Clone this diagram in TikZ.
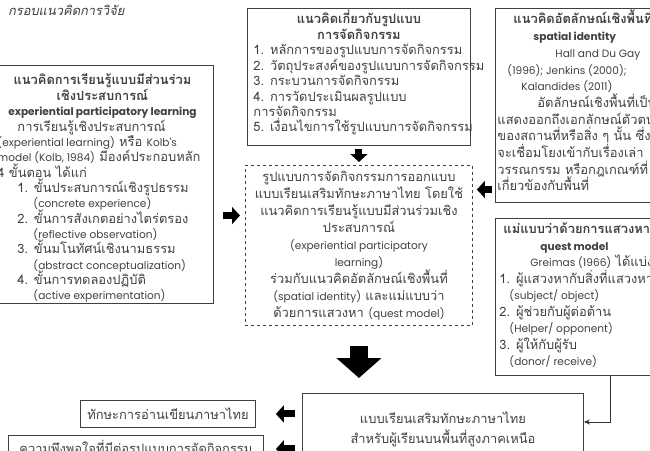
\documentclass[tikz,border=0pt]{standalone}
\usepackage{fontspec}
\setmainfont[Script=Thai]{Loma}
\newfontfamily\latfont[Scale=0.82]{Poppins}
\usepackage{tikz}
\usetikzlibrary{arrows.meta,positioning}

\newlength\rowwidth
\newcommand\lat[1]{{\latfont#1}}
\newcommand\row[1]{\makebox[\rowwidth][l]{#1}}
\newcommand\midtext[1]{\makebox[\rowwidth][c]{#1}}
\newcommand\hstrut[1]{\rule{0pt}{#1}}
\newcommand\dstrut[1]{\rule[-#1]{0pt}{#1}}

\begin{document}
\setlength{\lineskiplimit}{-100pt}
\begin{tikzpicture}[x=1pt,y=-1pt,
    every node/.style={text=black!75, font=\fontsize{12.9}{15.36}\selectfont},
    box/.style={draw=black!75, line width=0.9pt, anchor=north west, align=left, inner xsep=6pt, inner ysep=1pt},
    rows/.style={execute at begin node={\setlength{\rowwidth}{#1}\setlength{\lineskiplimit}{-100pt}}},
    thickarrow/.style={black, line width=7pt, -{Triangle[width=17pt,length=8pt]}},
    bigarrow/.style={black, line width=18pt, -{Triangle[width=44pt,length=20pt]}},
    link/.style={black!80, line width=0.9pt, -{Stealth[length=6pt,width=5pt]}}]
    \useasboundingbox (0,0) rectangle (650,450);
    \clip (0,0) rectangle (650,450);

    \coordinate (LearnNW) at (-9, 65);
    \coordinate (ConceptNW) at (247, 8);
    \coordinate (DesignNW) at (245, 165);
    \coordinate (SpaceNW) at (495, 8);
    \coordinate (QuestNW) at (495, 218);
    \coordinate (ResultNW) at (302, 393);

    \node (title) [anchor=east, font=\fontsize{12.9}{14}\selectfont\itshape] at (128, 10) {กรอบแนวคิดการวิจัย};

    \node (learn) [box, rows=210pt] at (LearnNW)
    {
    \midtext{\hstrut{18.5pt}\textbf{แนวคิดการเรียนรู้แบบมีส่วนร่วม}}\\
    \midtext{\textbf{เชิงประสบการณ์}}\\
    \midtext{\lat{\textbf{experiential participatory learning}}}\\
    \row{\hspace*{20pt}การเรียนรู้เชิงประสบการณ์}\\
    \row{\lat{(experiential learning)} หรือ \lat{Kolb's}}\\
    \row{\lat{model (Kolb, 1984)} มีองค์ประกอบหลัก}\\
    \row{4 ขั้นตอน ได้แก่}\\
    \row{\hspace*{20pt}1. ขั้นประสบการณ์เชิงรูปธรรม}\\
    \row{\hspace*{36pt}\lat{(concrete experience)}}\\
    \row{\hspace*{20pt}2. ขั้นการสังเกตอย่างไตร่ตรอง}\\
    \row{\hspace*{36pt}\lat{(reflective observation)}}\\
    \row{\hspace*{20pt}3. ขั้นมโนทัศน์เชิงนามธรรม}\\
    \row{\hspace*{36pt}\lat{(abstract conceptualization)}}\\
    \row{\hspace*{20pt}4. ขั้นการทดลองปฏิบัติ}\\
    \row{\hspace*{36pt}\lat{(active experimentation)}\dstrut{2pt}}
    };

    \node (concept) [box, rows=211pt, font=\fontsize{12.9}{15.43}\selectfont] at (ConceptNW)
    {
    \midtext{\hstrut{14.5pt}\textbf{แนวคิดเกี่ยวกับรูปแบบ}}\\
    \midtext{\textbf{การจัดกิจกรรม}}\\
    \row{1. หลักการของรูปแบบการจัดกิจกรรม}\\
    \row{2. วัตถุประสงค์ของรูปแบบการจัดกิจกรรม}\\
    \row{3. กระบวนการจัดกิจกรรม}\\
    \row{4. การวัดประเมินผลรูปแบบ}\\
    \row{การจัดกิจกรรม}\\
    \row{5. เงื่อนไขการใช้รูปแบบการจัดกิจกรรม\dstrut{12.5pt}}
    };

    \node (design) [box, dashed, align=center, rows=215pt, font=\fontsize{12.9}{16.9}\selectfont] at (DesignNW)
    {
    \midtext{\hstrut{15.5pt}รูปแบบการจัดกิจกรรมการออกแบบ}\\
    แบบเรียนเสริมทักษะภาษาไทย โดยใช้\\
    แนวคิดการเรียนรู้แบบมีส่วนร่วมเชิง\\
    ประสบการณ์\\
    \lat{(experiential participatory}\\
    \lat{learning)}\\
    ร่วมกับแนวคิดอัตลักษณ์เชิงพื้นที่\\
    \lat{(spatial identity)} และแม่แบบว่า\\
    ด้วยการแสวงหา \lat{(quest model)}\dstrut{7.5pt}
    };

    \node (space) [box, inner xsep=2pt, rows=220pt, font=\fontsize{12.9}{16.7}\selectfont] at (SpaceNW)
    {
    \row{\hstrut{14.5pt}\hspace*{16pt}\textbf{แนวคิดอัตลักษณ์เชิงพื้นที่}}\\
    \row{\hspace*{36pt}\lat{\textbf{spatial identity}}}\\
    \row{\hspace*{58pt}\lat{Hall and Du Gay}}\\
    \row{\hspace*{10pt}\lat{(1996); Jenkins (2000);}}\\
    \row{\hspace*{24pt}\lat{Kalandides (2011)}}\\
    \row{\hspace*{40pt}อัตลักษณ์เชิงพื้นที่เป็นสิ่งที่}\\
    \row{แสดงออกถึงเอกลักษณ์ตัวตน}\\
    \row{ของสถานที่หรือสิ่ง ๆ นั้น ซึ่ง}\\
    \row{จะเชื่อมโยงเข้ากับเรื่องเล่า}\\
    \row{วรรณกรรม หรือกฎเกณฑ์ที่}\\
    \row{เกี่ยวข้องกับพื้นที่\dstrut{10.5pt}}
    };

    \node (quest) [box, inner xsep=4pt, rows=220pt, font=\fontsize{12.9}{16.5}\selectfont] at (QuestNW)
    {
    \row{\hstrut{14.5pt}\hspace*{4pt}\textbf{แม่แบบว่าด้วยการแสวงหา}}\\
    \row{\hspace*{41pt}\lat{\textbf{quest model}}}\\
    \row{\hspace*{31pt}\lat{Greimas (1966)} ได้แบ่ง}\\
    \row{1. ผู้แสวงหากับสิ่งที่แสวงหา}\\
    \row{\hspace*{10pt}\lat{(subject/ object)}}\\
    \row{2. ผู้ช่วยกับผู้ต่อต้าน}\\
    \row{\hspace*{10pt}\lat{(Helper/ opponent)}}\\
    \row{3. ผู้ให้กับผู้รับ}\\
    \row{\hspace*{10pt}\lat{(donor/ receive)}\dstrut{8.5pt}}
    };

    \node (result) [box, align=center, rows=269pt, font=\fontsize{12.9}{20}\selectfont] at (ResultNW)
    {
    \midtext{\hstrut{29.5pt}แบบเรียนเสริมทักษะภาษาไทย}\\
    \midtext{สำหรับผู้เรียนบนพื้นที่สูงภาคเหนือ\dstrut{20pt}}
    };

    \node (skill) [box, align=center, minimum width=175pt, minimum height=27pt] at (80, 400) {ทักษะการอ่านเขียนภาษาไทย};
    \node (satis) [box, align=center, minimum width=255pt, minimum height=27pt] at (8, 435) {ความพึงพอใจที่มีต่อรูปแบบการจัดกิจกรรม};

    \coordinate (LA) at ([yshift=30pt]design.west);
    \coordinate (RA) at ([yshift=56pt]design.east);
    \coordinate (QA) at ([xshift=115pt]quest.south west);

    \draw [thickarrow, shorten <=3pt, shorten >=3pt] (concept.south) -- (concept.south |- design.north);
    \draw [thickarrow, shorten <=9pt, shorten >=5pt] (learn.east |- LA) -- (LA);
    \draw [thickarrow, shorten <=3pt, shorten >=4pt] (space.west |- RA) -- (RA);
    \draw [bigarrow, shorten <=20pt, shorten >=15pt] (design.south) -- (design.south |- result.north);
    \draw [thickarrow, shorten <=7pt, shorten >=20pt] (result.west |- skill.east) -- (skill.east);
    \draw [thickarrow, shorten <=7pt, shorten >=12pt] (result.west |- satis.east) -- (satis.east);
    \draw [link] (QA) |- ([yshift=-29pt]result.north east);

  \end{tikzpicture}
\end{document}
